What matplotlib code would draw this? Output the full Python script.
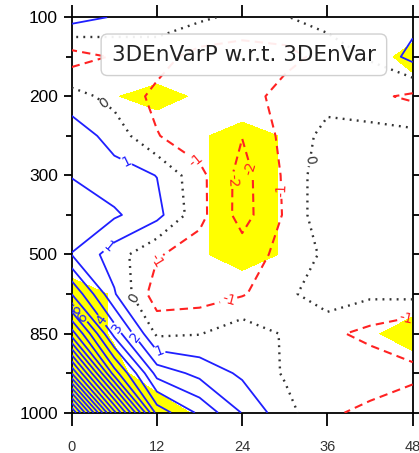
import numpy as np
import matplotlib
matplotlib.use("Agg")
import matplotlib.pyplot as plt

# ---------------- data ----------------
hours = [0, 6, 12, 18, 24, 30, 36, 42, 48]
plevs = [100, 150, 200, 250, 300, 400, 500, 700, 850, 925, 1000]
ytick_idx = [0, 2, 4, 6, 8, 10]
ytick_labels = ["100", "200", "300", "500", "850", "1000"]
xtick_vals = [0, 12, 24, 36, 48]

# difference field (one row per pressure level, columns = hours)
d100 = [1.5, 0.9, 0.6, 0.2, -0.3, -0.05, 0.4, 0.6, 0.6]
d150 = [-1.5, -0.9, -0.6, -1.4, -1.5, -1.4, -0.6, 0.1, 1.35]
d200 = [0.42, -0.35, -1.25, -1.4, -1.6, -0.5, -0.37, -0.75, -1.2]
d250 = [1.6, 0.6, -0.95, -1.6, -1.97, -0.73, 0.34, 0.4, 0.3]
d300 = [1.97, 1.4, 0.98, -0.72, -2.38, -0.85, 0.75, 0.6, 0.5]
d400 = [2.4, 2.15, 1.32, -0.7, -2.4, -0.9, 0.8, 0.7, 0.5]
d500 = [1.98, 0.49, -0.9, -1.5, -1.53, -0.68, 0.2, 0.6, 0.5]
d700 = [5.0, 1.1, -1.6, -1.5, -1.1, -0.27, 0.63, 0.2, 0.3]
d850 = [9.5, 3.66, -0.2, -0.05, 0.65, -0.11, -0.77, -1.3, -1.94]
d925 = [16.0, 7.5, 2.6, 1.7, 0.8, -0.1, -0.5, -0.3, -0.64]
d1000 = [24.0, 14.3, 5.6, 3.8, 1.95, 0.35, -0.8, -1.3, -1.9]

# confidence level field (shaded where >= 0.9)
c100 = [0.5, 0.5, 0.55, 0.5, 0.5, 0.5, 0.5, 0.6, 0.71]
c150 = [0.5, 0.6, 0.67, 0.6, 0.55, 0.5, 0.55, 0.78, 1.0]
c200 = [0.6, 0.885, 1.0, 0.86, 0.71, 0.6, 0.5, 0.6, 0.75]
c250 = [0.5, 0.6, 0.71, 0.87, 1.0, 0.88, 0.6, 0.5, 0.5]
c300 = [0.5, 0.5, 0.6, 0.87, 1.0, 0.88, 0.6, 0.5, 0.5]
c400 = [0.5, 0.5, 0.6, 0.87, 1.0, 0.88, 0.6, 0.5, 0.5]
c500 = [0.75, 0.6, 0.6, 0.87, 1.0, 0.88, 0.6, 0.5, 0.5]
c700 = [1.0, 0.88, 0.6, 0.6, 0.75, 0.6, 0.5, 0.6, 0.76]
c850 = [1.0, 0.88, 0.7, 0.6, 0.6, 0.6, 0.6, 0.87, 1.0]
c925 = [1.0, 0.95, 0.8, 0.7, 0.6, 0.5, 0.5, 0.6, 0.77]
c1000 = [1.0, 1.0, 1.0, 0.87, 0.7, 0.5, 0.5, 0.5, 0.6]

legend_text = "3DEnVarP w.r.t. 3DEnVar"

# ---------------- plot ----------------
plt.rcParams["axes.unicode_minus"] = False
diff = np.array([d100, d150, d200, d250, d300, d400, d500, d700, d850, d925, d1000])
conf = np.array([c100, c150, c200, c250, c300, c400, c500, c700, c850, c925, c1000])
X, Y = np.meshgrid(hours, np.arange(len(plevs)))

fig = plt.figure(figsize=(4.19, 4.53), dpi=100)
ax = fig.add_axes([0.171, 0.089, 0.814, 0.873])

ax.contourf(X, Y, conf, levels=[0.9, 2.0], colors=["#ffff00"], zorder=1)

neg = ax.contour(X, Y, diff, levels=[-3, -2, -1], colors="#ff2222",
                 linewidths=1.5, linestyles=[(0, (4, 2.5))], zorder=3)
zer = ax.contour(X, Y, diff, levels=[0], colors="#333333",
                 linewidths=1.7, linestyles=[(0, (0.8, 2.2))], zorder=3)
pos = ax.contour(X, Y, diff, levels=np.arange(1, 31), colors="#1f1fff",
                 linewidths=1.3, linestyles="solid", zorder=3)

ax.clabel(neg, fmt="%d", fontsize=10, inline=True, inline_spacing=2,
          manual=[(17.4, 3.66), (11.5, 6.14), (22.1, 7.15), (29.1, 4.37),
                  (47.0, 7.58), (22.8, 4.12), (25.5, 3.81)])
ax.clabel(zer, fmt="%d", fontsize=10, inline=True, inline_spacing=2,
          manual=[(4.7, 2.17), (8.9, 7.1), (33.2, 3.6)])
ax.clabel(pos, fmt="%d", fontsize=10, inline=True, inline_spacing=2,
          manual=[(7.8, 3.6), (5.1, 5.8), (12.2, 8.55), (8.7, 8.11),
                  (6.4, 7.86), (4.3, 7.65), (1.9, 7.53), (0.6, 7.4)])

ax.set_xlim(0, 48)
ax.set_ylim(len(plevs) - 1, 0)
ax.set_xticks(xtick_vals)
ax.set_xticklabels([str(v) for v in xtick_vals], fontsize=10.5,
                   family="Liberation Sans", color="#333333")
ax.set_yticks(ytick_idx)
ax.set_yticklabels(ytick_labels, fontsize=12.5, family="Liberation Sans")
ax.set_yticks([1, 3, 5, 7, 9], minor=True)

ax.tick_params(axis="x", which="major", direction="out", length=9, width=1.3,
               top=True, bottom=True, pad=11)
ax.tick_params(axis="y", which="major", direction="out", length=6, width=1.3,
               left=True, right=True, pad=4)
ax.tick_params(axis="y", which="minor", direction="out", length=4.5, width=1.3,
               left=True, right=True)
for s in ax.spines.values():
    s.set_linewidth(1.3)

ax.text(0.505, 0.905, legend_text, transform=ax.transAxes, ha="center",
        va="center", fontsize=15.5, family="DejaVu Sans", color="#222222",
        zorder=10,
        bbox=dict(boxstyle="round,pad=0.5,rounding_size=0.3", fc="white",
                  ec="#cccccc", lw=1.0, alpha=0.92))

fig.savefig("out.png", dpi=100)
